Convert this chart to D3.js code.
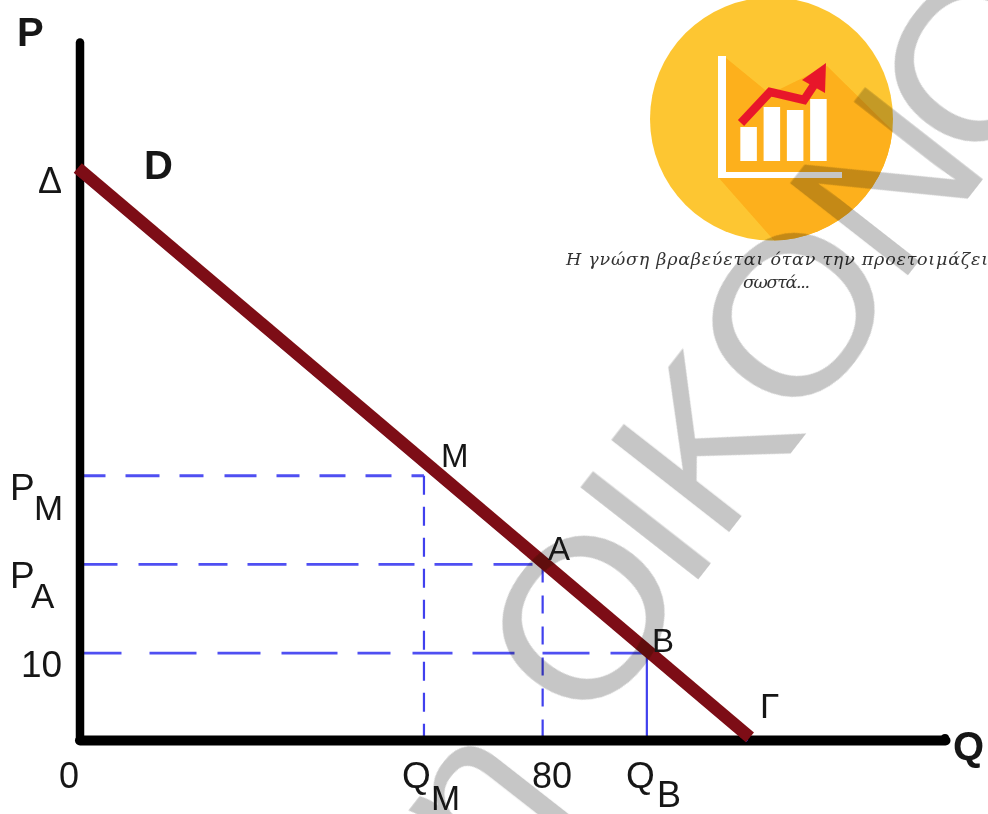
<!DOCTYPE html>
<html><head><meta charset="utf-8">
<script src="https://cdn.jsdelivr.net/npm/d3@7"></script>
<style>html,body{margin:0;padding:0;background:#fff}svg{display:block}text{font-family:"Liberation Sans",Arial,sans-serif;fill:#161616}</style>
</head><body><svg id="c" width="988" height="814"></svg>
<script>
// demand curve and reference levels, in chart units
const demandQ = [-0.3, 115.8];
const demandP = [65.8, 0.3];
const guideNames = ["M", "A", "B"];
const guideQ = [59.5, 80, 98];
const guideP = [30.4, 20.2, 10];
const hDashes = ["26 20 34 20 24 21 32 20 23 20 26 20", "38 21 39 21 29 20 39 20 52 20 36 20", "42 28 47 21 43 21 56 20 33 22 40 20"];
const vDashes = ["19 12", "18 13", null];
const qMax = 149.5, pMax = 80.3;
// logo bars
const iconBarHeights = [34, 54, 51, 62];
const iconLine = [[0, 38], [29, 69], [63, 61], [77, 82]];
const caption = ["Η γνώση βραβεύεται όταν την προετοιμάζει", "σωστά..."];
const watermarkLetters = ["η", "Ο", "Ι", "Κ", "Ο", "Ν", "Ο"];
const watermarkNudgeX = [60, 75, 65, 55, 39, 30, 10];
const watermarkNudgeY = [30, -22, -23, -18, -10, -14, 5];
const watermarkWiden = [1, 1.08, 1, 1, 1.08, 1, 1.08];

const svg = d3.select("#c");
const x = d3.scaleLinear().domain([0, qMax]).range([79.5, 945]);
const y = d3.scaleLinear().domain([0, pMax]).range([740, 42]);

const defs = svg.append("defs");
defs.append("filter").attr("id", "soft").attr("x", "-5%").attr("y", "-5%").attr("width", "110%").attr("height", "110%")
  .append("feGaussianBlur").attr("stdDeviation", 0.6);
defs.append("clipPath").attr("id", "disc").append("circle").attr("cx", 771.5).attr("cy", 119).attr("r", 121.5);

const root = svg.append("g").attr("filter", "url(#soft)");

// logo
const logo = root.append("g");
logo.append("circle").attr("cx", 771.5).attr("cy", 119).attr("r", 121.5).attr("fill", "#fdc632");
logo.append("polygon").attr("clip-path", "url(#disc)").attr("fill", "#fdb01b")
  .attr("points", "726,58 770,94 827,66 900,138 900,245 778,245 718,177");
const ix = d3.scaleBand().domain(d3.range(iconBarHeights.length)).range([738, 829]).paddingInner(0.29).paddingOuter(0.1);
const iy = d3.scaleLinear().domain([0, 100]).range([161, 61]);
logo.selectAll("rect.b").data(iconBarHeights).join("rect").attr("class", "b")
  .attr("x", (d, i) => ix(i)).attr("width", ix.bandwidth())
  .attr("y", d => iy(d)).attr("height", d => iy(0) - iy(d)).attr("fill", "#fff");
logo.append("rect").attr("x", 718).attr("y", 56).attr("width", 8).attr("height", 122).attr("fill", "#fff");
logo.append("rect").attr("x", 718).attr("y", 172).attr("width", 124).attr("height", 6).attr("fill", "#fff");
const ilx = d3.scaleLinear().domain([0, 100]).range([741, 841]);
logo.append("path").attr("d", d3.line().x(d => ilx(d[0])).y(d => iy(d[1]))(iconLine))
  .attr("fill", "none").attr("stroke", "#e8192c").attr("stroke-width", 8.5);
logo.append("polygon").attr("points", "802,80 826,63 825,93").attr("fill", "#e8192c");

// caption
root.selectAll("text.cap").data(caption).join("text").attr("class", "cap")
  .attr("x", (d, i) => i ? 743 : 566).attr("y", (d, i) => i ? 288 : 265)
  .attr("textLength", (d, i) => i ? 67 : 422).attr("lengthAdjust", "spacing")
  .style("font-family", "'DejaVu Serif',serif").style("font-style", "italic")
  .style("font-size", "17.5px").style("fill", "#333")
  .text(d => d);

// guides
guideP.forEach((p, i) => {
  root.append("line").attr("x1", x(0)).attr("x2", x(guideQ[i])).attr("y1", y(p)).attr("y2", y(p))
    .attr("stroke", "#5050f2").attr("stroke-width", 2.8).attr("stroke-dasharray", hDashes[i]);
  root.append("line").attr("x1", x(guideQ[i])).attr("x2", x(guideQ[i])).attr("y1", y(p)).attr("y2", y(0))
    .attr("stroke", "#4040ee").attr("stroke-width", 2.2).attr("stroke-dasharray", vDashes[i]);
});

// axes
const xAxis = d3.axisBottom(x).tickValues([]).tickSizeOuter(0);
const yAxis = d3.axisLeft(y).tickValues([]).tickSizeOuter(0);
root.append("g").attr("transform", `translate(0,${y(0)})`).call(xAxis).select(".domain")
  .attr("stroke", "#000").attr("stroke-width", 10).attr("stroke-linecap", "round");
root.append("g").attr("transform", `translate(${x(0)},0)`).call(yAxis).select(".domain")
  .attr("stroke", "#000").attr("stroke-width", 8.5).attr("stroke-linecap", "round");
root.append("circle").attr("cx", x(qMax)).attr("cy", y(0)-2).attr("r", 4).attr("fill", "#000");

// demand
const demand = d3.line().x(d => x(d[0])).y(d => y(d[1]))(demandQ.map((q, i) => [q, demandP[i]]));
root.append("path").attr("d", demand).attr("stroke", "#3030e0").attr("stroke-width", 3).attr("fill", "none").attr("transform", "translate(-2.5,3.5)");
root.append("path").attr("d", demand).attr("stroke", "#7d0a12").attr("stroke-width", 12.5).attr("fill", "none");

// labels
function label(t, px, py, size, weight) {
  root.append("text").attr("x", px).attr("y", py).text(t)
    .style("font-size", size + "px").style("font-weight", weight || "normal");
}
label("P", 17, 46, 40, "bold");
label("D", 144, 179, 40, "bold");
label("Q", 953, 760, 40, "bold");
label("Δ", 38, 193, 36);
label("P", 10, 500, 37); label("M", 34, 520, 35);
label("P", 10, 588, 37); label("A", 31, 608, 35);
label("10", 21, 677, 37);
label("0", 59, 788, 36);
label("Q", 402, 788, 37); label("M", 431, 810, 35);
label("80", 532, 788, 36);
label("Q", 626, 788, 37); label("B", 657, 807, 36);
label(guideNames[0], 441, 467, 33);
label(guideNames[1], 548, 560, 33);
label(guideNames[2], 652, 652, 33);
label("Γ", 760, 718, 35);

// watermark: one rotated glyph per letter along the same baseline
const wmSize = 218, wmSpacing = 8;
const ang = -52 * Math.PI / 180;
let run = 0;
watermarkLetters.forEach((ch, i) => {
  const px = 432 + run * Math.cos(ang) + watermarkNudgeX[i];
  const py = 860 + run * Math.sin(ang) + watermarkNudgeY[i];
  const t = root.append("text").text(ch)
    .attr("transform", `translate(${px},${py}) rotate(-52) scale(${watermarkWiden[i]},1)`)
    .style("font-size", wmSize + "px")
    .style("fill", "#c6c6c6").style("mix-blend-mode", "multiply");
  run += t.node().getComputedTextLength() + wmSpacing;
});
</script></body></html>
